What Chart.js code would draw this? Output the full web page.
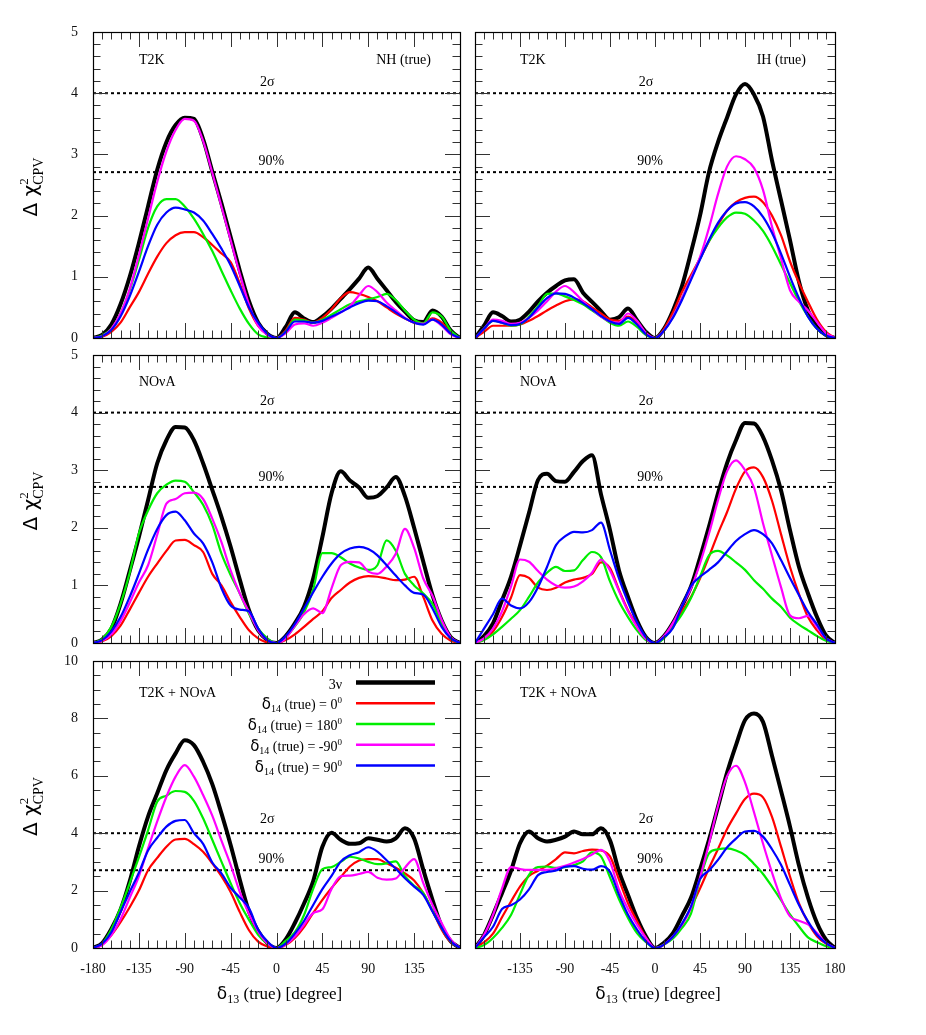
<!DOCTYPE html>
<html>
<head>
<meta charset="utf-8">
<script src="https://cdn.jsdelivr.net/npm/chart.js@4.4.0/dist/chart.umd.min.js"></script>
<style>
  html, body { margin: 0; padding: 0; background: #fff; }
  #wrap { position: relative; width: 926px; height: 1035px; overflow: hidden; background: #fff; }
  #wrap canvas { position: absolute; }
</style>
</head>
<body>
<div id="wrap">
  <canvas id="t2k-nh"></canvas>
  <canvas id="t2k-ih"></canvas>
  <canvas id="nova-nh"></canvas>
  <canvas id="nova-ih"></canvas>
  <canvas id="comb-nh"></canvas>
  <canvas id="comb-ih"></canvas>
</div>
<script>
// delta13 (true) grid in degrees
const delta13 = [-180, -171, -162, -153, -144, -135, -126, -117, -108, -99, -90, -81, -72, -63, -54, -45, -36, -27, -18, -9, 0,
                 9, 18, 27, 36, 45, 54, 63, 72, 81, 90, 99, 108, 117, 126, 135, 144, 153, 162, 171, 180];

// series: 3nu, delta14(true) = 0, 180, -90, 90
const seriesNames = ['3ν', 'δ14 (true) = 0', 'δ14 (true) = 180', 'δ14 (true) = -90', 'δ14 (true) = 90'];
const delta14True = ['0', '180', '-90', '90'];
const seriesColors = ['#000000', '#ff0000', '#00ee00', '#ff00ff', '#0000ff'];

// confidence levels (dotted lines)
const clLevels = [4, 2.71];
const clNames = ['2σ', '90%'];

// T2K, NH (true)
const t2kNH_3nu = [0, 0.05, 0.22, 0.55, 1.0, 1.55, 2.15, 2.75, 3.2, 3.48, 3.6, 3.58, 3.25, 2.72, 2.2, 1.65, 1.1, 0.6, 0.25, 0.07, 0,
                   0.18, 0.42, 0.32, 0.26, 0.35, 0.48, 0.64, 0.8, 0.97, 1.15, 0.97, 0.78, 0.59, 0.43, 0.29, 0.26, 0.45, 0.35, 0.12, 0];
const t2kNH_0 = [0, 0.02, 0.1, 0.25, 0.5, 0.75, 1.05, 1.33, 1.55, 1.68, 1.73, 1.73, 1.65, 1.52, 1.38, 1.24, 0.89, 0.48, 0.2, 0.06, 0,
                 0.12, 0.33, 0.3, 0.25, 0.33, 0.47, 0.65, 0.75, 0.72, 0.67, 0.6, 0.5, 0.4, 0.32, 0.25, 0.23, 0.32, 0.25, 0.08, 0];
const t2kNH_180 = [0, 0.04, 0.15, 0.4, 0.78, 1.27, 1.8, 2.15, 2.27, 2.27, 2.15, 1.95, 1.7, 1.42, 1.1, 0.78, 0.48, 0.23, 0.06, 0.01, 0,
                   0.1, 0.3, 0.29, 0.25, 0.3, 0.38, 0.47, 0.55, 0.6, 0.63, 0.67, 0.72, 0.62, 0.45, 0.3, 0.24, 0.42, 0.35, 0.12, 0];
const t2kNH_m90 = [0, 0.03, 0.15, 0.4, 0.8, 1.35, 1.95, 2.55, 3.05, 3.4, 3.58, 3.55, 3.22, 2.7, 2.15, 1.6, 1.05, 0.55, 0.2, 0.05, 0,
                   0.08, 0.22, 0.24, 0.2, 0.25, 0.33, 0.42, 0.52, 0.7, 0.85, 0.75, 0.58, 0.45, 0.33, 0.25, 0.23, 0.3, 0.2, 0.06, 0];
const t2kNH_90 = [0, 0.03, 0.13, 0.35, 0.68, 1.08, 1.5, 1.85, 2.05, 2.13, 2.1, 2.05, 1.92, 1.7, 1.46, 1.19, 0.85, 0.5, 0.25, 0.07, 0,
                  0.1, 0.27, 0.27, 0.25, 0.28, 0.35, 0.42, 0.5, 0.57, 0.61, 0.6, 0.52, 0.42, 0.32, 0.25, 0.22, 0.3, 0.22, 0.07, 0];

// T2K, IH (true)
const t2kIH_3nu = [0, 0.2, 0.42, 0.36, 0.27, 0.3, 0.43, 0.6, 0.74, 0.85, 0.94, 0.96, 0.74, 0.59, 0.44, 0.3, 0.34, 0.48, 0.29, 0.1, 0,
                   0.15, 0.45, 0.85, 1.4, 2.0, 2.71, 3.2, 3.6, 3.98, 4.15, 3.98, 3.62, 2.9, 2.25, 1.6, 0.92, 0.45, 0.18, 0.05, 0];
const t2kIH_0 = [0, 0.1, 0.2, 0.2, 0.2, 0.22, 0.28, 0.36, 0.45, 0.53, 0.6, 0.63, 0.6, 0.5, 0.4, 0.3, 0.28, 0.35, 0.25, 0.08, 0,
                 0.15, 0.42, 0.75, 1.03, 1.3, 1.58, 1.85, 2.08, 2.22, 2.29, 2.31, 2.22, 2.0, 1.68, 1.25, 0.9, 0.59, 0.3, 0.1, 0];
const t2kIH_180 = [0, 0.15, 0.28, 0.25, 0.2, 0.22, 0.35, 0.52, 0.72, 0.73, 0.68, 0.62, 0.55, 0.45, 0.35, 0.25, 0.2, 0.27, 0.18, 0.05, 0,
                   0.12, 0.35, 0.65, 0.98, 1.3, 1.58, 1.8, 1.97, 2.05, 2.03, 1.92, 1.75, 1.5, 1.2, 0.9, 0.6, 0.35, 0.15, 0.04, 0];
const t2kIH_m90 = [0, 0.15, 0.3, 0.28, 0.23, 0.25, 0.33, 0.45, 0.6, 0.76, 0.85, 0.75, 0.6, 0.47, 0.35, 0.27, 0.25, 0.4, 0.28, 0.08, 0,
                   0.12, 0.35, 0.65, 0.98, 1.32, 1.8, 2.35, 2.8, 2.97, 2.92, 2.78, 2.42, 1.82, 1.3, 0.78, 0.59, 0.45, 0.26, 0.08, 0];
const t2kIH_90 = [0, 0.15, 0.28, 0.25, 0.21, 0.23, 0.33, 0.5, 0.65, 0.73, 0.72, 0.66, 0.57, 0.47, 0.36, 0.27, 0.23, 0.33, 0.22, 0.06, 0,
                  0.12, 0.33, 0.62, 0.95, 1.28, 1.6, 1.88, 2.08, 2.2, 2.22, 2.15, 1.98, 1.72, 1.38, 1.0, 0.65, 0.35, 0.15, 0.04, 0];

// NOvA, NH (true)
const novaNH_3nu = [0, 0.06, 0.25, 0.68, 1.25, 1.84, 2.48, 3.12, 3.52, 3.75, 3.74, 3.52, 3.12, 2.66, 2.19, 1.67, 1.1, 0.57, 0.22, 0.05, 0,
                    0.12, 0.34, 0.63, 1.12, 1.84, 2.6, 2.98, 2.82, 2.7, 2.52, 2.55, 2.7, 2.88, 2.55, 2.0, 1.41, 0.83, 0.39, 0.1, 0];
const novaNH_0 = [0, 0.03, 0.12, 0.3, 0.58, 0.87, 1.15, 1.38, 1.6, 1.78, 1.79, 1.7, 1.58, 1.2, 1.0, 0.71, 0.45, 0.22, 0.08, 0.01, 0,
                  0.05, 0.15, 0.28, 0.42, 0.55, 0.78, 0.92, 1.05, 1.13, 1.16, 1.15, 1.12, 1.09, 1.1, 1.15, 0.8, 0.39, 0.16, 0.04, 0];
const novaNH_180 = [0, 0.07, 0.28, 0.68, 1.22, 1.9, 2.3, 2.6, 2.75, 2.82, 2.8, 2.62, 2.4, 2.05, 1.55, 1.18, 0.86, 0.51, 0.25, 0.08, 0,
                    0.1, 0.29, 0.53, 0.93, 1.56, 1.56, 1.49, 1.38, 1.31, 1.27, 1.35, 1.78, 1.6, 1.2, 1.0, 0.86, 0.68, 0.34, 0.08, 0];
const novaNH_m90 = [0, 0.04, 0.15, 0.38, 0.7, 1.05, 1.35, 1.88, 2.42, 2.5, 2.6, 2.61, 2.5, 2.16, 1.75, 1.26, 0.86, 0.54, 0.22, 0.05, 0,
                    0.08, 0.3, 0.5, 0.6, 0.52, 0.95, 1.35, 1.41, 1.4, 1.24, 1.2, 1.33, 1.55, 1.98, 1.65, 1.12, 0.82, 0.4, 0.1, 0];
const novaNH_90 = [0, 0.05, 0.2, 0.45, 0.8, 1.2, 1.62, 1.98, 2.22, 2.28, 2.13, 1.9, 1.73, 1.4, 0.95, 0.65, 0.58, 0.55, 0.25, 0.05, 0,
                   0.12, 0.33, 0.6, 0.88, 1.15, 1.38, 1.55, 1.64, 1.67, 1.63, 1.52, 1.35, 1.17, 1.0, 0.87, 0.84, 0.6, 0.28, 0.08, 0];

// NOvA, IH (true)
const novaIH_3nu = [0, 0.12, 0.34, 0.74, 1.15, 1.69, 2.26, 2.83, 2.94, 2.81, 2.8, 2.97, 3.16, 3.26, 2.58, 1.96, 1.26, 0.8, 0.39, 0.1, 0,
                    0.12, 0.35, 0.65, 0.98, 1.48, 2.02, 2.6, 3.12, 3.52, 3.82, 3.81, 3.58, 3.17, 2.65, 1.96, 1.32, 0.86, 0.45, 0.13, 0];
const novaIH_0 = [0, 0.06, 0.2, 0.45, 0.79, 1.18, 1.13, 0.96, 0.92, 0.96, 1.05, 1.1, 1.13, 1.2, 1.4, 1.3, 0.92, 0.57, 0.31, 0.07, 0,
                  0.1, 0.3, 0.55, 0.8, 1.12, 1.5, 1.9, 2.27, 2.68, 2.98, 3.05, 2.88, 2.47, 1.89, 1.32, 0.85, 0.45, 0.22, 0.06, 0];
const novaIH_180 = [0, 0.05, 0.15, 0.28, 0.42, 0.57, 0.8, 1.05, 1.22, 1.32, 1.25, 1.26, 1.44, 1.58, 1.49, 1.07, 0.72, 0.45, 0.22, 0.05, 0,
                    0.08, 0.28, 0.5, 0.78, 1.15, 1.52, 1.6, 1.52, 1.4, 1.27, 1.09, 0.94, 0.77, 0.63, 0.44, 0.32, 0.22, 0.12, 0.04, 0];
const novaIH_m90 = [0, 0.08, 0.25, 0.55, 0.98, 1.45, 1.41, 1.25, 1.1, 1.0, 0.96, 0.98, 1.07, 1.22, 1.45, 1.26, 0.9, 0.55, 0.28, 0.07, 0,
                    0.12, 0.35, 0.65, 0.95, 1.38, 1.9, 2.48, 2.98, 3.17, 3.0, 2.7, 2.08, 1.52, 0.97, 0.48, 0.43, 0.47, 0.28, 0.08, 0];
const novaIH_90 = [0, 0.25, 0.5, 0.77, 0.65, 0.6, 0.71, 0.97, 1.32, 1.7, 1.85, 1.93, 1.92, 1.96, 2.09, 1.61, 1.12, 0.71, 0.36, 0.1, 0,
                   0.1, 0.26, 0.64, 0.99, 1.15, 1.27, 1.4, 1.59, 1.77, 1.89, 1.96, 1.89, 1.73, 1.44, 1.13, 0.83, 0.54, 0.32, 0.08, 0];

// T2K + NOvA, NH (true)
const combNH_3nu = [0, 0.17, 0.66, 1.33, 2.32, 3.53, 4.58, 5.39, 6.2, 6.78, 7.24, 7.07, 6.49, 5.71, 4.69, 3.59, 2.38, 1.27, 0.58, 0.17, 0,
                    0.3, 0.87, 1.55, 2.33, 3.53, 4.02, 3.77, 3.63, 3.65, 3.82, 3.77, 3.71, 3.82, 4.17, 3.82, 2.72, 1.68, 0.75, 0.23, 0];
const combNH_0 = [0, 0.12, 0.45, 0.9, 1.42, 2.0, 2.71, 3.14, 3.53, 3.78, 3.8, 3.62, 3.35, 2.95, 2.5, 1.95, 1.25, 0.62, 0.22, 0.05, 0,
                  0.1, 0.35, 0.73, 1.22, 1.68, 2.09, 2.47, 2.84, 3.05, 3.1, 3.1, 2.95, 2.8, 2.6, 2.35, 1.91, 1.3, 0.64, 0.2, 0];
const combNH_180 = [0, 0.15, 0.65, 1.4, 2.26, 3.16, 4.1, 5.1, 5.31, 5.47, 5.44, 5.13, 4.52, 3.77, 3.01, 2.26, 1.56, 0.98, 0.46, 0.15, 0,
                    0.25, 0.55, 1.15, 2.06, 2.75, 2.82, 3.0, 3.18, 3.12, 3.0, 2.92, 2.95, 3.02, 2.5, 2.17, 1.91, 1.29, 0.7, 0.23, 0];
const combNH_m90 = [0, 0.1, 0.45, 1.0, 1.75, 2.5, 3.47, 4.41, 5.27, 5.97, 6.37, 5.97, 5.33, 4.61, 3.74, 2.9, 1.95, 1.19, 0.58, 0.17, 0,
                    0.12, 0.4, 0.81, 1.22, 1.35, 2.06, 2.5, 2.52, 2.58, 2.65, 2.45, 2.38, 2.42, 2.8, 3.1, 2.26, 1.5, 0.87, 0.29, 0];
const combNH_90 = [0, 0.15, 0.55, 1.25, 1.95, 2.62, 3.4, 3.84, 4.23, 4.43, 4.46, 4.0, 3.63, 2.98, 2.6, 2.1, 1.76, 1.39, 0.64, 0.23, 0,
                   0.15, 0.5, 0.94, 1.5, 2.05, 2.51, 3.01, 3.23, 3.34, 3.51, 3.36, 3.06, 2.76, 2.43, 2.14, 1.85, 1.27, 0.7, 0.23, 0];

// T2K + NOvA, IH (true)
const combIH_3nu = [0, 0.45, 1.15, 1.91, 2.69, 3.65, 4.06, 3.82, 3.71, 3.77, 3.88, 4.06, 3.96, 3.96, 4.17, 3.75, 2.67, 1.85, 1.04, 0.4, 0,
                    0.18, 0.52, 1.12, 1.75, 2.72, 3.77, 4.92, 6.1, 7.07, 7.94, 8.17, 7.88, 6.7, 5.48, 4.23, 2.87, 1.75, 0.87, 0.29, 0];
const combIH_0 = [0, 0.2, 0.5, 1.07, 1.62, 2.14, 2.51, 2.69, 2.87, 3.1, 3.33, 3.3, 3.38, 3.43, 3.4, 3.19, 2.38, 1.56, 0.93, 0.35, 0,
                  0.12, 0.4, 0.81, 1.41, 2.07, 2.78, 3.45, 4.14, 4.69, 5.19, 5.38, 5.25, 4.57, 3.53, 2.49, 1.55, 0.89, 0.41, 0.15, 0];
const combIH_180 = [0, 0.1, 0.35, 0.7, 1.15, 1.87, 2.55, 2.82, 2.84, 2.79, 2.82, 2.89, 3.02, 3.33, 3.19, 2.46, 1.7, 1.05, 0.52, 0.2, 0,
                    0.12, 0.33, 0.7, 1.2, 2.39, 3.3, 3.44, 3.47, 3.4, 3.24, 2.93, 2.58, 2.14, 1.67, 1.17, 0.75, 0.37, 0.2, 0.06, 0];
const combIH_m90 = [0, 0.45, 1.15, 2.07, 2.82, 2.75, 2.72, 2.72, 2.72, 2.78, 2.86, 2.98, 3.1, 3.26, 3.42, 3.01, 2.03, 1.36, 0.81, 0.35, 0,
                    0.12, 0.4, 0.81, 1.41, 2.45, 3.64, 4.95, 5.98, 6.35, 5.77, 4.73, 3.64, 2.63, 1.73, 1.1, 0.95, 0.82, 0.52, 0.17, 0];
const combIH_90 = [0, 0.37, 0.74, 1.36, 1.49, 1.69, 2.04, 2.54, 2.65, 2.7, 2.83, 2.85, 2.76, 2.73, 2.85, 2.65, 1.85, 1.16, 0.64, 0.23, 0,
                   0.12, 0.4, 0.85, 1.45, 2.4, 2.7, 3.07, 3.5, 3.81, 4.06, 4.08, 3.88, 3.44, 2.9, 2.2, 1.5, 0.93, 0.46, 0.17, 0];

const SERIF = '"Liberation Serif", "Times New Roman", serif';
const GREEK = '"DejaVu Sans", sans-serif';

// page layout (pixels)
const colLeft = { left: 0, width: 470, axisW: 93, padRight: 10 };
const colRight = { left: 463, width: 384, axisW: 12, padRight: 12 };
const rowTop = { top: 18, height: 330, padTop: 14, axisH: 10, xLabels: false };
const rowMid = { top: 343, height: 310, padTop: 12, axisH: 10, xLabels: false };
const rowBot = { top: 648, height: 387, padTop: 13, axisH: 87, xLabels: true };

// draw text made of pieces (sub/superscripts)
function drawRich(ctx, parts, x, y, align) {
    let w = 0;
    parts.forEach(p => {
        ctx.font = p.font;
        if (!p.stack) w += ctx.measureText(p.t).width;
    });
    let cx = align === 'right' ? x - w : (align === 'center' ? x - w / 2 : x);
    parts.forEach(p => {
        ctx.font = p.font;
        ctx.fillText(p.t, cx, y + (p.dy || 0));
        if (!p.stack) cx += ctx.measureText(p.t).width;
    });
}

function legendParts(i) {
    if (i === 0) return [{ t: seriesNames[0], font: '14px ' + SERIF }];
    return [
        { t: 'δ', font: '15px ' + GREEK },
        { t: '14', font: '10px ' + SERIF, dy: 3 },
        { t: ' (true) = ' + delta14True[i - 1], font: '14px ' + SERIF },
        { t: '0', font: '9px ' + SERIF, dy: -6 }
    ];
}

const decorPlugin = {
    id: 'decor',
    afterDatasetsDraw(chart, args, o) {
        const { ctx, chartArea: a } = chart;
        const xs = chart.scales.x, ys = chart.scales.y;
        ctx.save();

        // inward tick marks on all four sides
        ctx.strokeStyle = '#333';
        ctx.lineWidth = 1;
        ctx.beginPath();
        for (let v = -180; v <= 180; v += o.xMinor) {
            const px = Math.round(xs.getPixelForValue(v)) + 0.5;
            const len = v % o.xMajor === 0 ? 15 : 7.5;
            ctx.moveTo(px, a.bottom); ctx.lineTo(px, a.bottom - len);
            ctx.moveTo(px, a.top); ctx.lineTo(px, a.top + len);
        }
        const nY = Math.round(ys.max / o.yMinor);
        for (let k = 0; k <= nY; k++) {
            const v = k * o.yMinor;
            const r = v / o.yMajor;
            const len = Math.abs(r - Math.round(r)) < 1e-6 ? 15 : 7.5;
            const py = Math.round(ys.getPixelForValue(v)) + 0.5;
            ctx.moveTo(a.left, py); ctx.lineTo(a.left + len, py);
            ctx.moveTo(a.right, py); ctx.lineTo(a.right - len, py);
        }
        ctx.stroke();

        // frame
        ctx.strokeStyle = '#000';
        ctx.lineWidth = 1.2;
        ctx.strokeRect(Math.round(a.left) + 0.5, Math.round(a.top) + 0.5,
                       Math.round(a.width), Math.round(a.height));

        ctx.fillStyle = '#000';
        ctx.textBaseline = 'middle';
        ctx.font = '14px ' + SERIF;

        // panel labels
        const ly = a.top + o.labelDy;
        ctx.textAlign = 'left';
        ctx.fillText(o.leftLabel, xs.getPixelForValue(-135), ly);
        if (o.rightLabel) {
            ctx.textAlign = 'right';
            ctx.fillText(o.rightLabel, a.right - 29, ly);
        }

        // confidence level labels
        ctx.textAlign = 'center';
        ctx.fillText(clNames[0], xs.getPixelForValue(-9), ys.getPixelForValue(clLevels[0]) - o.clGap[0]);
        ctx.fillText(clNames[1], xs.getPixelForValue(-5), ys.getPixelForValue(clLevels[1]) - o.clGap[1]);

        ctx.textAlign = 'left';
        ctx.textBaseline = 'alphabetic';

        // legend
        if (o.legend) {
            seriesNames.forEach((name, i) => {
                const yy = a.top + 21.5 + i * 20.75;
                ctx.strokeStyle = seriesColors[i];
                ctx.lineWidth = i === 0 ? 4.5 : 2.5;
                ctx.beginPath();
                ctx.moveTo(a.left + 263, yy);
                ctx.lineTo(a.left + 342, yy);
                ctx.stroke();
                drawRich(ctx, legendParts(i), a.left + 249, yy + 6, 'right');
            });
        }

        // y axis title
        if (o.yTitle) {
            ctx.save();
            ctx.translate(31, (a.top + a.bottom) / 2 + 2);
            ctx.rotate(-Math.PI / 2);
            drawRich(ctx, [
                { t: 'Δ χ', font: '20px ' + GREEK },
                { t: '2', font: '13px ' + SERIF, dy: -9, stack: true },
                { t: 'CPV', font: '14px ' + SERIF, dy: 6 }
            ], 0, 6, 'center');
            ctx.restore();
        }

        // x axis title
        if (o.xTitle) {
            drawRich(ctx, [
                { t: 'δ', font: '17px ' + GREEK },
                { t: '13', font: '12px ' + SERIF, dy: 4 },
                { t: ' (true) [degree]', font: '17px ' + SERIF }
            ], xs.getPixelForValue(0) + 3, a.bottom + 51, 'center');
        }
        ctx.restore();
    }
};

function buildPanel(canvasId, series, col, row, cfg) {
    const cv = document.getElementById(canvasId);
    cv.width = col.width;
    cv.height = row.height;
    cv.style.left = col.left + 'px';
    cv.style.top = row.top + 'px';

    const datasets = series.map((vals, i) => ({
        label: seriesNames[i],
        data: delta13.map((d, k) => ({ x: d, y: vals[k] })),
        borderColor: seriesColors[i],
        borderWidth: i === 0 ? 4 : 2.2,
        borderJoinStyle: 'round',
        pointRadius: 0,
        fill: false,
        cubicInterpolationMode: 'monotone',
        order: series.length - i
    }));
    clLevels.forEach(lv => {
        datasets.push({
            label: 'CL',
            data: [{ x: -180, y: lv }, { x: 180, y: lv }],
            borderColor: '#000',
            borderWidth: 2,
            borderDash: [3, 3],
            pointRadius: 0,
            fill: false,
            order: 20
        });
    });

    const tickFont = { family: SERIF, size: 14 };

    return new Chart(cv, {
        type: 'line',
        data: { datasets },
        plugins: [decorPlugin],
        options: {
            responsive: false,
            animation: false,
            events: [],
            layout: { padding: { top: row.padTop, right: col.padRight, bottom: 0, left: 0 } },
            plugins: {
                legend: { display: false },
                tooltip: { enabled: false },
                decor: cfg
            },
            scales: {
                x: {
                    type: 'linear',
                    min: -180,
                    max: 180,
                    // tick marks themselves are drawn by the decor plugin; tickLength only offsets the labels
                    grid: { display: false, drawTicks: true, tickLength: 13 },
                    border: { display: false },
                    ticks: {
                        display: row.xLabels,
                        stepSize: 45,
                        autoSkip: false,
                        maxRotation: 0,
                        padding: 0,
                        color: '#111',
                        font: tickFont,
                        callback: v => (v === cfg.hideX ? '' : String(v))
                    },
                    afterFit: s => { s.height = row.axisH; }
                },
                y: {
                    type: 'linear',
                    min: 0,
                    max: cfg.yMax,
                    grid: { display: false, drawTicks: true, tickLength: 15 },
                    border: { display: false },
                    ticks: {
                        display: col === colLeft,
                        stepSize: cfg.yMajor,
                        padding: 0,
                        color: '#111',
                        font: tickFont
                    },
                    afterFit: s => { s.width = col.axisW; }
                }
            }
        }
    });
}

const small = { yMax: 5, yMajor: 1, yMinor: 0.2, xMinor: 9, xMajor: 45 };
const big = { yMax: 10, yMajor: 2, yMinor: 0.5, xMinor: 9, xMajor: 45 };

buildPanel('t2k-nh', [t2kNH_3nu, t2kNH_0, t2kNH_180, t2kNH_m90, t2kNH_90], colLeft, rowTop,
    Object.assign({}, small, { leftLabel: 'T2K', rightLabel: 'NH (true)', labelDy: 28, clGap: [11, 11], yTitle: true }));
buildPanel('t2k-ih', [t2kIH_3nu, t2kIH_0, t2kIH_180, t2kIH_m90, t2kIH_90], colRight, rowTop,
    Object.assign({}, small, { leftLabel: 'T2K', rightLabel: 'IH (true)', labelDy: 28, clGap: [11, 11] }));
buildPanel('nova-nh', [novaNH_3nu, novaNH_0, novaNH_180, novaNH_m90, novaNH_90], colLeft, rowMid,
    Object.assign({}, small, { leftLabel: 'NOνA', labelDy: 27, clGap: [11, 10], yTitle: true }));
buildPanel('nova-ih', [novaIH_3nu, novaIH_0, novaIH_180, novaIH_m90, novaIH_90], colRight, rowMid,
    Object.assign({}, small, { leftLabel: 'NOνA', labelDy: 27, clGap: [11, 10] }));
buildPanel('comb-nh', [combNH_3nu, combNH_0, combNH_180, combNH_m90, combNH_90], colLeft, rowBot,
    Object.assign({}, big, { leftLabel: 'T2K + NOνA', labelDy: 32, clGap: [14, 11], yTitle: true, xTitle: true, legend: true, hideX: 180 }));
buildPanel('comb-ih', [combIH_3nu, combIH_0, combIH_180, combIH_m90, combIH_90], colRight, rowBot,
    Object.assign({}, big, { leftLabel: 'T2K + NOνA', labelDy: 32, clGap: [14, 11], xTitle: true, hideX: -180 }));
</script>
</body>
</html>
